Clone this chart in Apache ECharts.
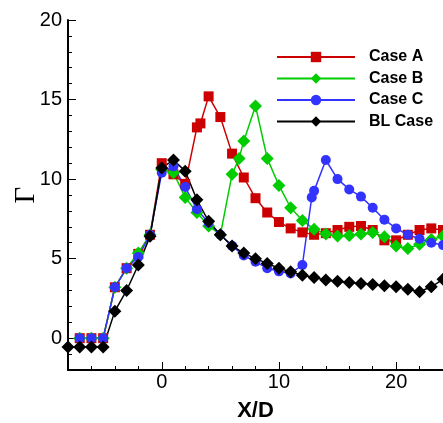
<!DOCTYPE html>
<html>
<head>
<meta charset="utf-8">
<script src="https://cdn.jsdelivr.net/npm/echarts@6/dist/echarts.min.js"></script>
<style>
  html, body { margin: 0; padding: 0; background: #fff; }
  #chart { width: 443px; height: 423px; }
</style>
</head>
<body>
<div id="chart"></div>
<script>
// 数据 (X/D, Gamma)
var xA = [-7, -6, -5, -4, -3, -2, -1, 0, 1, 2, 3, 3.3, 4, 5, 6, 7, 8, 9, 10, 11, 12, 13, 14, 15, 16, 17, 18, 19, 20, 21, 22, 23, 24];
var yA = [0, 0, 0, 3.2, 4.4, 5.3, 6.5, 11.0, 10.3, 9.7, 13.25, 13.5, 15.2, 13.9, 11.6, 10.1, 8.8, 7.9, 7.3, 6.9, 6.65, 6.5, 6.6, 6.8, 7.0, 7.05, 6.8, 6.15, 6.15, 6.5, 6.8, 6.9, 6.8];

var xB = [-7, -6, -5, -4, -3, -2, -1, 0, 1, 2, 3, 4, 5, 6, 6.6, 7, 8, 9, 10, 11, 12, 13, 14, 15, 16, 17, 18, 19, 20, 21, 22, 23, 24];
var yB = [0, 0, 0, 3.2, 4.4, 5.35, 6.5, 10.6, 10.4, 8.85, 7.9, 7.05, 6.5, 10.3, 11.3, 12.4, 14.6, 11.3, 9.6, 8.2, 7.4, 6.85, 6.55, 6.42, 6.45, 6.55, 6.65, 6.37, 5.8, 5.64, 5.9, 6.2, 6.4];

var xC = [-7, -6, -5, -4, -3, -2, -1, 0, 1, 2, 3, 4, 5, 6, 7, 8, 9, 10, 11, 12, 12.8, 13, 14, 15, 16, 17, 18, 19, 20, 21, 22, 23, 24];
var yC = [0, 0, 0, 3.2, 4.4, 5.1, 6.5, 10.4, 10.8, 9.5, 8.1, 7.25, 6.5, 5.8, 5.2, 4.8, 4.4, 4.2, 4.07, 4.6, 8.85, 9.26, 11.2, 10.0, 9.35, 8.9, 8.2, 7.45, 6.9, 6.5, 6.25, 6.0, 5.85];

var xBL = [-8, -7, -6, -5, -4, -3, -2, -1, 0, 1, 2, 3, 4, 5, 6, 7, 8, 9, 10, 11, 12, 13, 14, 15, 16, 17, 18, 19, 20, 21, 22, 23, 24];
var yBL = [-0.55, -0.55, -0.55, -0.55, 1.7, 3.0, 4.6, 6.4, 10.7, 11.2, 10.5, 8.7, 7.35, 6.5, 5.8, 5.35, 5.0, 4.7, 4.4, 4.17, 3.96, 3.82, 3.65, 3.58, 3.5, 3.44, 3.38, 3.3, 3.23, 3.08, 2.92, 3.23, 3.7];

var xMajor = [0, 10, 20];
var yMajor = [0, 5, 10, 15, 20];

function zip(xs, ys) {
    return xs.map(function (x, i) { return [x, ys[i]]; });
}

var font = 'Liberation Sans, Arial, sans-serif';

function makeSeries(name, xs, ys, color, symbol, size) {
    return {
        name: name,
        type: 'line',
        data: zip(xs, ys),
        symbol: symbol,
        symbolSize: size,
        showAllSymbol: true,
        clip: true,
        lineStyle: { color: color, width: 1.5 },
        itemStyle: { color: color },
        emphasis: { disabled: true },
        animation: false
    };
}

var myChart = echarts.init(document.getElementById('chart'));

myChart.setOption({
    animation: false,
    grid: { left: 68, top: 20, right: 0, bottom: 53, outerBoundsMode: 'none' },
    legend: {
        orient: 'vertical',
        left: 276,
        top: 49,
        padding: 0,
        itemWidth: 78,
        itemHeight: 13,
        itemGap: 5.5,
        textStyle: { fontFamily: font, fontWeight: 'bold', fontSize: 16, color: '#000', padding: [0, 0, 0, 9] },
        data: ['Case A', 'Case B', 'Case C', 'BL Case']
    },
    xAxis: [
        {
            type: 'value', min: -8, max: 24, interval: 2,
            name: 'X/D', nameLocation: 'middle', nameGap: 30, nameMoveOverlap: false,
            nameTextStyle: { fontFamily: font, fontWeight: 'bold', fontSize: 22, color: '#000' },
            axisLine: { show: true, onZero: false, lineStyle: { color: '#000', width: 2 } },
            axisTick: { show: true, inside: true, length: 4, lineStyle: { color: '#000', width: 1 } },
            axisLabel: {
                margin: 2, fontFamily: font, fontSize: 20, color: '#000',
                formatter: function (v) { return v % 10 === 0 ? String(v) : ''; }
            },
            splitLine: { show: false }
        },
        {
            type: 'value', min: -8, max: 24, position: 'bottom', offset: 0,
            axisLine: { show: false, onZero: false },
            axisTick: { show: true, inside: true, length: 8, customValues: xMajor, lineStyle: { color: '#000', width: 1 } },
            axisLabel: { show: false },
            splitLine: { show: false }
        }
    ],
    yAxis: [
        {
            type: 'value', min: -2, max: 20, interval: 1,
            name: 'Γ', nameLocation: 'middle', nameGap: 27, nameRotate: 90, nameMoveOverlap: false,
            nameTextStyle: { fontFamily: 'Liberation Serif, serif', fontSize: 29, color: '#000' },
            axisLine: { show: true, onZero: false, lineStyle: { color: '#000', width: 2 } },
            axisTick: { show: true, inside: true, length: 4, lineStyle: { color: '#000', width: 1 } },
            axisLabel: {
                margin: 6, fontFamily: font, fontSize: 20, color: '#000',
                formatter: function (v) { return v % 5 === 0 ? String(v) : ''; }
            },
            splitLine: { show: false }
        },
        {
            type: 'value', min: -2, max: 20, position: 'left', offset: 0,
            axisLine: { show: false, onZero: false },
            axisTick: { show: true, inside: true, length: 8, customValues: yMajor, lineStyle: { color: '#000', width: 1 } },
            axisLabel: { show: false },
            splitLine: { show: false }
        }
    ],
    series: [
        makeSeries('Case A', xA, yA, '#cc0000', 'rect', 10),
        makeSeries('Case B', xB, yB, '#00cc00', 'diamond', 13),
        makeSeries('Case C', xC, yC, '#3333ff', 'circle', 10),
        makeSeries('BL Case', xBL, yBL, '#000000', 'diamond', 13)
    ]
});
</script>
</body>
</html>
